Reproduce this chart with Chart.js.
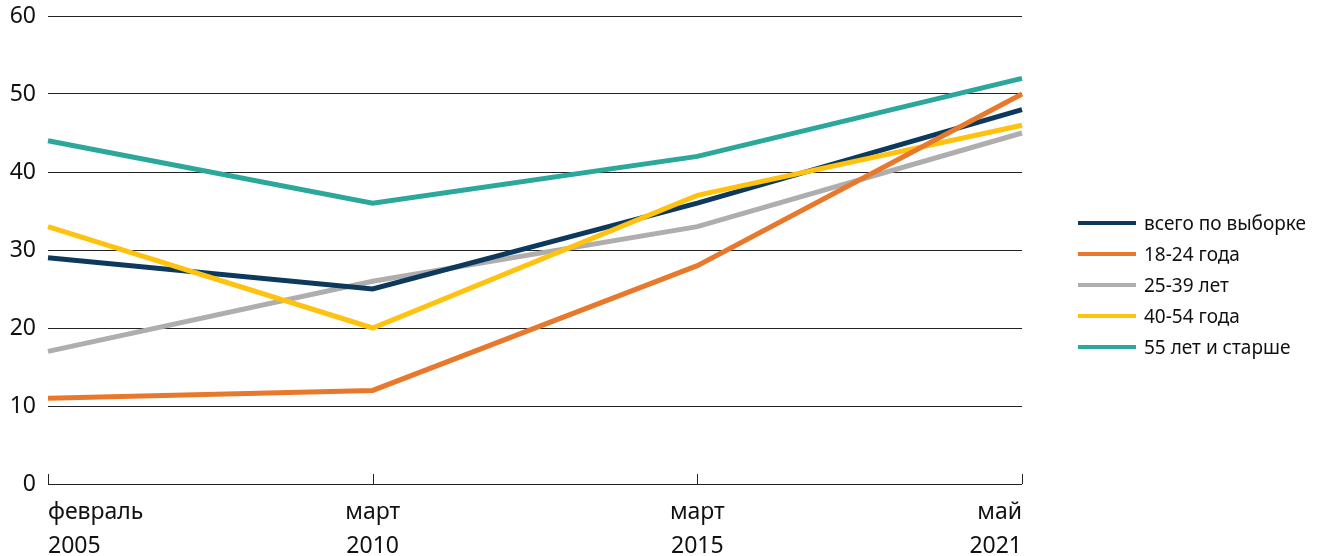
<!DOCTYPE html>
<html>
<head>
<meta charset="utf-8">
<script src="https://cdn.jsdelivr.net/npm/chart.js@4/dist/chart.umd.min.js"></script>
<style>
  body { margin: 0; background: #fff; font-family: "Noto Sans", sans-serif; }
  #wrap { position: relative; width: 1331px; height: 556px; }
  #legend { position: absolute; left: 1078px; top: 207px; font-size: 19px; color: #111; }
  #legend .row { display: flex; align-items: center; height: 31px; }
  #legend .line { width: 58px; height: 4px; margin-right: 8px; }
</style>
</head>
<body>
<div id="wrap">
  <canvas id="chart"></canvas>
  <div id="legend"></div>
</div>
<script>
// categories (two-line labels) and series values
var periods = [["февраль", "2005"], ["март", "2010"], ["март", "2015"], ["май", "2021"]];
var seriesNames = ["всего по выборке", "18-24 года", "25-39 лет", "40-54 года", "55 лет и старше"];
var seriesColors = ["#0d3a5c", "#e8792c", "#afadad", "#ffc20e", "#2ba89b"];
var total = [29, 25, 36, 48];
var age18_24 = [11, 12, 28, 50];
var age25_39 = [17, 26, 33, 45];
var age40_54 = [33, 20, 37, 46];
var age55plus = [44, 36, 42, 52];
var yTicks = [0, 10, 20, 30, 40, 50, 60];

var allSeries = [total, age18_24, age25_39, age40_54, age55plus];

// draw order: grey under, teal on top like the picture
var drawOrder = [2, 0, 3, 1, 4];

var datasets = [];
for (var i = 0; i < allSeries.length; i++) {
    datasets.push({
        label: seriesNames[i],
        data: allSeries[i],
        borderColor: seriesColors[i],
        backgroundColor: seriesColors[i],
        borderWidth: 5,
        pointRadius: 0,
        pointHoverRadius: 0,
        tension: 0,
        fill: false,
        order: drawOrder.length - drawOrder.indexOf(i)
    });
}

// small upward tick marks on the category axis
var upTicks = {
    id: "upTicks",
    afterDraw: function (chart) {
        var x = chart.scales.x;
        var ctx = chart.ctx;
        var bottom = chart.chartArea.bottom;
        ctx.save();
        ctx.strokeStyle = "#222";
        ctx.lineWidth = 1;
        for (var i = 0; i < periods.length; i++) {
            var px = Math.round(x.getPixelForValue(i)) + 0.5;
            ctx.beginPath();
            ctx.moveTo(px, bottom);
            ctx.lineTo(px, bottom - 10);
            ctx.stroke();
        }
        ctx.restore();
    }
};

var ctx = document.getElementById("chart");
var chart = new Chart(ctx, {
    type: "line",
    data: {
        labels: periods,
        datasets: datasets
    },
    options: {
        responsive: true,
        maintainAspectRatio: false,
        animation: false,
        layout: { padding: { left: 10, right: 309, top: 16, bottom: 0 } },
        plugins: {
            legend: { display: false },
            tooltip: { enabled: false }
        },
        scales: {
            x: {
                offset: false,
                grid: { display: false },
                border: { display: false },
                afterFit: function (scale) {
                    scale.paddingLeft = 0;
                    scale.paddingRight = 0;
                    scale.height = 72;
                },
                ticks: {
                    color: "#111",
                    font: { family: "Noto Sans", size: 23, lineHeight: 1.45 },
                    padding: 4,
                    align: "inner",
                    maxRotation: 0,
                    autoSkip: false
                }
            },
            y: {
                min: 0,
                max: 60,
                afterBuildTicks: function (axis) {
                    axis.ticks = yTicks.map(function (v) { return { value: v }; });
                },
                afterFit: function (scale) {
                    scale.paddingTop = 0;
                    scale.paddingBottom = 0;
                    scale.width = 38;
                },
                grid: { color: "#222", lineWidth: 1, drawTicks: false },
                border: { display: false },
                ticks: {
                    color: "#111",
                    font: { family: "Noto Sans", size: 23 },
                    padding: 12
                }
            }
        }
    },
    plugins: [upTicks]
});

// legend
var legend = document.getElementById("legend");
for (var j = 0; j < seriesNames.length; j++) {
    var row = document.createElement("div");
    row.className = "row";
    var line = document.createElement("div");
    line.className = "line";
    line.style.background = seriesColors[j];
    var txt = document.createElement("span");
    txt.textContent = seriesNames[j];
    row.appendChild(line);
    row.appendChild(txt);
    legend.appendChild(row);
}
</script>
</body>
</html>
